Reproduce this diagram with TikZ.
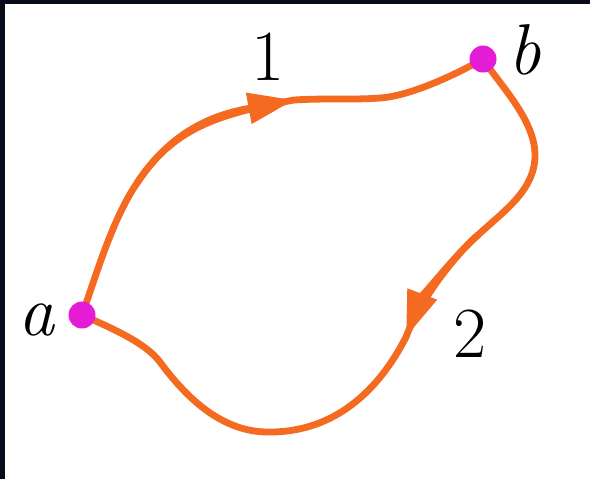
\documentclass[tikz,border=0pt]{standalone}
\usetikzlibrary{arrows.meta}
\definecolor{curveorange}{RGB}{243,106,32}
\definecolor{dotmagenta}{RGB}{228,28,214}
\definecolor{frameblue}{RGB}{8,12,26}
\tikzset{
  pathline/.style={draw=curveorange, line width=3.4pt, line cap=round, line join=round},
  headtip/.style={-{Triangle[length=23pt,width=15pt]}},
  dotnode/.style={circle, fill=dotmagenta, inner sep=0pt, minimum size=13.5pt},
  lbl/.style={anchor=base, inner sep=0pt, font=\fontsize{36}{40}\selectfont}
}
\begin{document}
\begin{tikzpicture}[x=0.5pt,y=-0.5pt]
\useasboundingbox (0,0) rectangle (590,479);
\fill[frameblue] (0,0) rectangle (590,479);
\fill[white] (5,4) rectangle (590,479);
% anchor points
\coordinate (pa) at (82,315);
\coordinate (pb) at (483,59);
\coordinate (q1) at (137,183);
\coordinate (m1) at (294,100);
\coordinate (k2) at (380,98);
\coordinate (k3) at (535,155);
\coordinate (k4) at (478,235);
\coordinate (m2) at (406,337);
\coordinate (k5) at (270,432);
\coordinate (k6) at (160,362);
% path 1 : a -> b
\draw[pathline] (pa) .. controls (97,273) and (112,220) .. (q1)
  .. controls (172.75,129) and (215.6,114.4) .. (m1)
  .. controls (325,98) and (355,100) .. (k2)
  .. controls (410,96) and (455,75) .. (pb);
\draw[pathline, headtip] (q1) .. controls (172.75,129) and (215.6,114.4) .. (m1);
% path 2 : b -> a
\draw[pathline] (pb) .. controls (500,85) and (535,120) .. (k3)
  .. controls (535,190) and (505,210) .. (k4)
  .. controls (455,255) and (420,300) .. (m2)
  .. controls (379,390) and (335,432) .. (k5)
  .. controls (220,433) and (183.6,394) .. (k6)
  .. controls (145,342) and (109,327) .. (pa);
\draw[pathline, headtip] (k4) .. controls (455,255) and (420,300) .. (m2);
% end points
\node[dotnode] (a) at (pa) {};
\node[dotnode] (b) at (pb) {};
% labels
\node[lbl] (la) at (37,335) {\textit{a}};
\node[lbl] (lb) at (525,74) {\textit{b}};
\node[lbl] (l1) at (268,80) {1};
\node[lbl] (l2) at (470,357) {2};
\end{tikzpicture}
\end{document}
